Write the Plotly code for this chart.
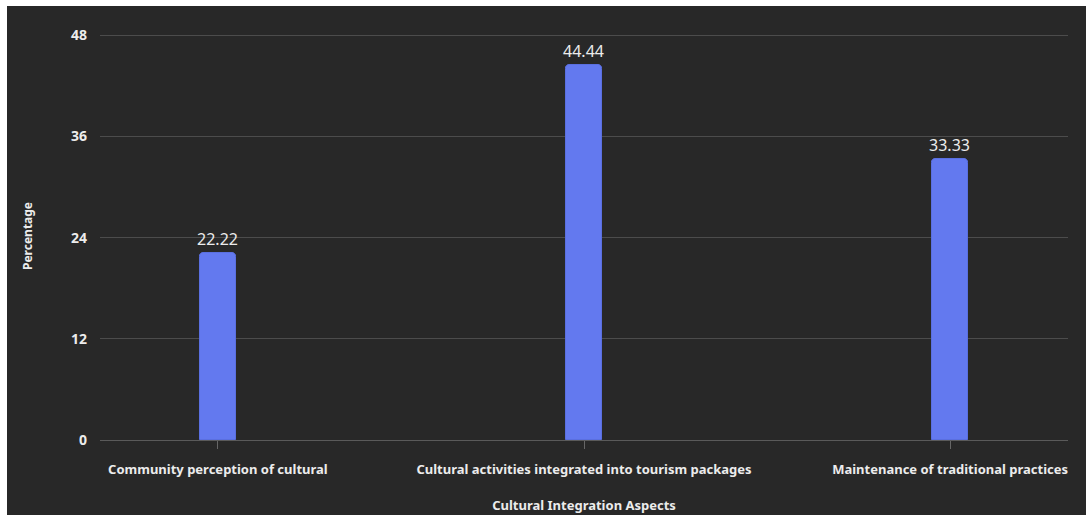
import plotly.graph_objects as go

categories = [
    "Community perception of cultural",
    "Cultural activities integrated into tourism packages",
    "Maintenance of traditional practices",
]
values = [22.22, 44.44, 33.33]
y_ticks = [0, 12, 24, 36, 48]

W, H = 1086, 515
ML, MR, MT, MB = 100, 18, 32, 75
PW, PH = W - ML - MR, H - MT - MB

BG = "#282828"
TXT = "#ececec"
FONT = "Noto Sans"

fig = go.Figure(
    go.Bar(
        x=categories,
        y=values,
        width=0.098,
        marker=dict(color="#6379ef", line=dict(color="#5a6fe0", width=1), cornerradius=4),
        text=[f"{v:.2f}" for v in values],
        textposition="outside",
        constraintext="none",
        textfont=dict(family=FONT, size=16, color=TXT),
        cliponaxis=False,
    )
)

# white strips at the top and left edge of the page
fig.add_shape(type="rect", xref="paper", yref="paper", layer="below",
              x0=-ML / PW, x1=1 + MR / PW, y0=1 + (MT - 6) / PH, y1=1 + MT / PH,
              fillcolor="white", line_width=0)
fig.add_shape(type="rect", xref="paper", yref="paper", layer="below",
              x0=-ML / PW, x1=-(ML - 7) / PW, y0=-MB / PH, y1=1 + MT / PH,
              fillcolor="white", line_width=0)

fig.update_layout(
    width=W, height=H,
    margin=dict(l=ML, r=MR, t=MT, b=MB, pad=0, autoexpand=False),
    paper_bgcolor=BG, plot_bgcolor=BG,
    showlegend=False,
    font=dict(family=FONT, color=TXT),
    bargap=0,
)
fig.update_xaxes(
    range=[-0.322, 2.322],
    automargin=False,
    showgrid=False,
    showline=False,
    ticks="outside", ticklen=8, tickwidth=1, tickcolor="#666666",
    tickfont=dict(family=FONT, size=13, color=TXT, weight="bold"),
    ticklabelstandoff=9,
    title=dict(text="Cultural Integration Aspects", standoff=24,
               font=dict(family=FONT, size=13, color=TXT, weight="bold")),
)
fig.update_yaxes(
    range=[0, 48.4],
    automargin=False,
    tickvals=y_ticks,
    showgrid=True, gridcolor="#4c4c4c", gridwidth=1,
    zeroline=True, zerolinecolor="#5a5a5a", zerolinewidth=1,
    showline=False,
    ticks="",
    tickfont=dict(family=FONT, size=14, color=TXT, weight="bold"),
    ticklabelstandoff=12,
    title=dict(text="Percentage", standoff=35,
               font=dict(family=FONT, size=12, color=TXT, weight="bold")),
)

fig.write_html("out.html")
